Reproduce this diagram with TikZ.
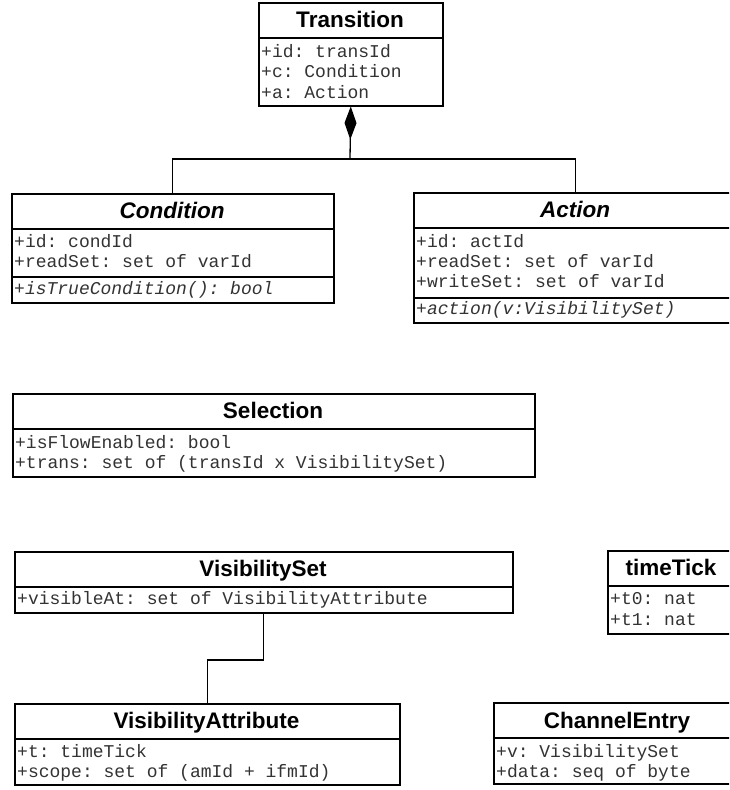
\documentclass[tikz,border=0pt]{standalone}
\usepackage{fontspec}
\setmainfont{Liberation Sans}
\setmonofont{Liberation Mono}
\usetikzlibrary{arrows.meta}
\tikzset{
  classbox/.style={draw=black, line width=1.5pt, inner sep=0pt, anchor=north west, fill=white},
  divider/.style={draw=black, line width=1.5pt},
  ctitle/.style={inner sep=0pt, anchor=base, font=\fontsize{22.5}{26}\selectfont\bfseries},
  atitle/.style={inner sep=0pt, anchor=base, font=\fontsize{22.5}{26}\selectfont\bfseries\itshape},
  attr/.style={inner sep=0pt, anchor=base west, font=\ttfamily\fontsize{18}{20}\selectfont, text=black!80},
  meth/.style={inner sep=0pt, anchor=base west, font=\ttfamily\itshape\fontsize{18}{20}\selectfont, text=black!80},
  conn/.style={draw=black, line width=1.3pt},
}
\begin{document}
\begin{tikzpicture}[x=1pt,y=-1pt]
\useasboundingbox (0,0) rectangle (729,790);
\fill[white] (0,0) rectangle (729,790);
\clip (0,0) rectangle (729,790);

% Transition
\node[classbox, minimum width=184pt, minimum height=103pt] (trans) at (258,2) {};
\draw[divider] (258,38) -- (442,38);
\node[ctitle] (transT) at (350,27) {Transition};
\node[attr] (trans1) at (261,57) {+id: transId};
\node[attr] (trans2) at (261,77.5) {+c: Condition};
\node[attr] (trans3) at (261,98) {+a: Action};

% Condition
\node[classbox, minimum width=322pt, minimum height=109pt] (cond) at (11,193) {};
\draw[divider] (11,229) -- (333,229);
\draw[divider] (11,277) -- (333,277);
\node[atitle] (condT) at (172,218) {Condition};
\node[attr] (cond1) at (14,247) {+id: condId};
\node[attr] (cond2) at (14,267.5) {+readSet: set of varId};
\node[meth] (cond3) at (14,294) {+isTrueCondition(): bool};

% Action
\node[classbox, minimum width=324pt, minimum height=130pt] (act) at (413,192) {};
\draw[divider] (413,228) -- (737,228);
\draw[divider] (413,298) -- (737,298);
\node[atitle] (actT) at (575,217) {Action};
\node[attr] (act1) at (416,247) {+id: actId};
\node[attr] (act2) at (416,267.5) {+readSet: set of varId};
\node[attr] (act3) at (416,287.5) {+writeSet: set of varId};
\node[meth] (act4) at (416,314) {+action(v:VisibilitySet)};

% Selection
\node[classbox, minimum width=522pt, minimum height=83pt] (sel) at (12,393) {};
\draw[divider] (12,429) -- (534,429);
\node[ctitle] (selT) at (273,418) {Selection};
\node[attr] (sel1) at (15,448.5) {+isFlowEnabled: bool};
\node[attr] (sel2) at (15,468.5) {+trans: set of (transId x VisibilitySet)};

% VisibilitySet
\node[classbox, minimum width=498pt, minimum height=61pt] (vs) at (14,551) {};
\draw[divider] (14,587) -- (512,587);
\node[ctitle] (vsT) at (263,576) {VisibilitySet};
\node[attr] (vs1) at (17,604.5) {+visibleAt: set of VisibilityAttribute};

% VisibilityAttribute
\node[classbox, minimum width=385pt, minimum height=81pt] (va) at (14,703) {};
\draw[divider] (14,739) -- (399,739);
\node[ctitle] (vaT) at (206.5,728) {VisibilityAttribute};
\node[attr] (va1) at (17,757) {+t: timeTick};
\node[attr] (va2) at (17,777) {+scope: set of (amId + ifmId)};

% timeTick
\node[classbox, minimum width=128pt, minimum height=83pt] (tt) at (607,550) {};
\draw[divider] (607,586) -- (735,586);
\node[ctitle] (ttT) at (671,575) {timeTick};
\node[attr] (tt1) at (610,604.5) {+t0: nat};
\node[attr] (tt2) at (610,625) {+t1: nat};

% ChannelEntry
\node[classbox, minimum width=248pt, minimum height=81pt] (ce) at (493,702) {};
\draw[divider] (493,738) -- (741,738);
\node[ctitle] (ceT) at (617,728) {ChannelEntry};
\node[attr] (ce1) at (496,757.5) {+v: VisibilitySet};
\node[attr] (ce2) at (496,777.5) {+data: seq of byte};

% Composition: Transition <>-- Condition, Action
\coordinate (j) at (350,159);
\draw[conn] (cond.north) |- (j) -| (act.north);
\draw[conn, -{Diamond[length=33pt,width=12pt,fill=black]}] (j) -- (trans.south);

% Association VisibilitySet -- VisibilityAttribute
\coordinate (m) at (0,660);
\draw[conn] (vs.south) -- (vs.south |- m) -| (va.north);
\end{tikzpicture}
\end{document}
